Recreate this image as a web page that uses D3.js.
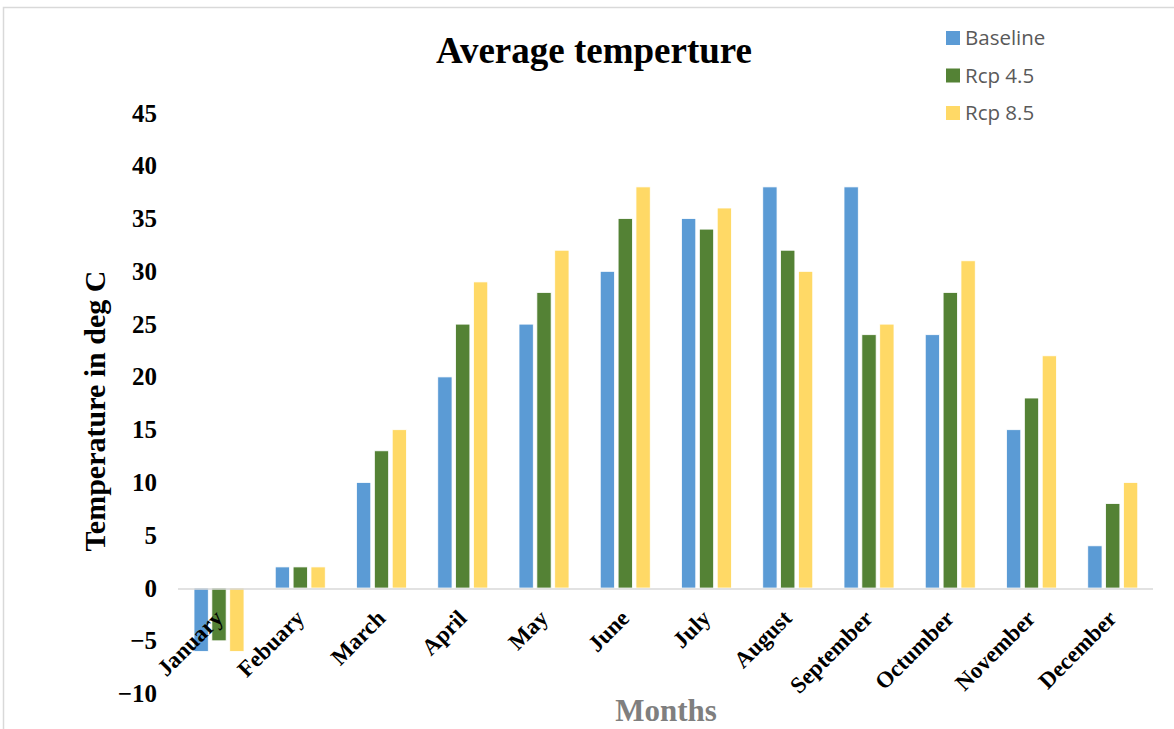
<!DOCTYPE html>
<html><head><meta charset="utf-8">
<script src="https://cdn.jsdelivr.net/npm/d3@7"></script>
<style>body{margin:0;background:#fff;}svg{display:block;}</style>
</head><body>
<svg id="chart" width="1174" height="729"></svg>
<script>
const months = ["January","Febuary","March","April","May","June","July","August","September","Octumber","November","December"];
const seriesNames = ["Baseline","Rcp 4.5","Rcp 8.5"];
const baseline = [-6,2,10,20,25,30,35,38,38,24,15,4];
const rcp45 = [-5,2,13,25,28,35,34,32,24,28,18,8];
const rcp85 = [-6,2,15,29,32,38,36,30,25,31,22,10];
const yTicks = [-10,-5,0,5,10,15,20,25,30,35,40,45];
const colors = ["#5B9BD5","#548235","#FFD966"];

const svg = d3.select("#chart");
const serif = "'Liberation Serif', 'Times New Roman', serif";
// frame
svg.append("path").attr("d","M3.5,729 V7.5 H1174").attr("fill","none").attr("stroke","#d9d9d9").attr("stroke-width",1.5);

const x0 = d3.scaleBand().domain(months).range([178,1153]).paddingInner(0).paddingOuter(0);
const x1 = d3.scaleBand().domain(seriesNames).range([16, 66]).paddingInner(0.2).paddingOuter(0);
const y = d3.scaleLinear().domain([-10,45]).range([693.6,113]);

// y tick labels
const yAxis = d3.axisLeft(y).tickValues(yTicks).tickSize(0).tickPadding(0);
const gy = svg.append("g").attr("transform","translate(157,0)").call(yAxis);
gy.select(".domain").remove();
gy.selectAll("text").attr("font-family",serif).attr("font-weight","bold").attr("font-size",25).attr("fill","#000");

const data = [baseline, rcp45, rcp85];
const g = svg.append("g");
months.forEach((m,i)=>{
  const gg = g.append("g").attr("transform",`translate(${x0(m)},0)`);
  seriesNames.forEach((s,k)=>{
    const v = data[k][i];
    gg.append("rect")
      .attr("x", x1(s)).attr("width", x1.bandwidth())
      .attr("y", y(Math.max(0,v))).attr("height", Math.abs(y(v)-y(0)))
      .attr("fill", colors[k]).attr("stroke","#fff").attr("stroke-width",0.8);
  });
});

// zero line
svg.append("line").attr("x1",178).attr("x2",1153).attr("y1",y(0)+1).attr("y2",y(0)+1).attr("stroke","#d9d9d9").attr("stroke-width",1.5);

// x labels
const xAxis = d3.axisBottom(x0).tickSize(0).tickPadding(0);
const gx = svg.append("g").call(xAxis);
gx.select(".domain").remove();
gx.selectAll(".tick").attr("transform", d=>`translate(${x0(d)+x0.bandwidth()/2},614)`);
gx.selectAll("text").attr("y",0).attr("dy","0.35em").attr("x",0)
  .attr("text-anchor","end").attr("transform","rotate(-45)")
  .attr("font-family",serif).attr("font-weight","bold").attr("font-size",23).attr("fill","#000");

// title
svg.append("text").attr("x",594).attr("y",63).attr("text-anchor","middle")
  .attr("font-family",serif).attr("font-weight","bold").attr("font-size",37).attr("fill","#000")
  .text("Average temperture");

// y title
svg.append("text").attr("transform","translate(105,411) rotate(-90)").attr("text-anchor","middle")
  .attr("font-family",serif).attr("font-weight","bold").attr("font-size",30).attr("fill","#000")
  .text("Temperature in deg C");

// x title
svg.append("text").attr("x",666).attr("y",721).attr("text-anchor","middle")
  .attr("font-family",serif).attr("font-weight","bold").attr("font-size",31).attr("fill","#7f7f7f")
  .text("Months");

// legend
const lg = svg.append("g");
seriesNames.forEach((s,k)=>{
  const yy = 38 + k*37.5;
  lg.append("rect").attr("x",946).attr("y",yy-7).attr("width",14).attr("height",14).attr("fill",colors[k]);
  lg.append("text").attr("x",965).attr("y",yy).attr("dy","0.35em")
    .attr("font-family","'Open Sans', 'Liberation Sans', sans-serif").attr("font-size",20.5).attr("fill","#595959").text(s);
});
</script>
</body></html>
